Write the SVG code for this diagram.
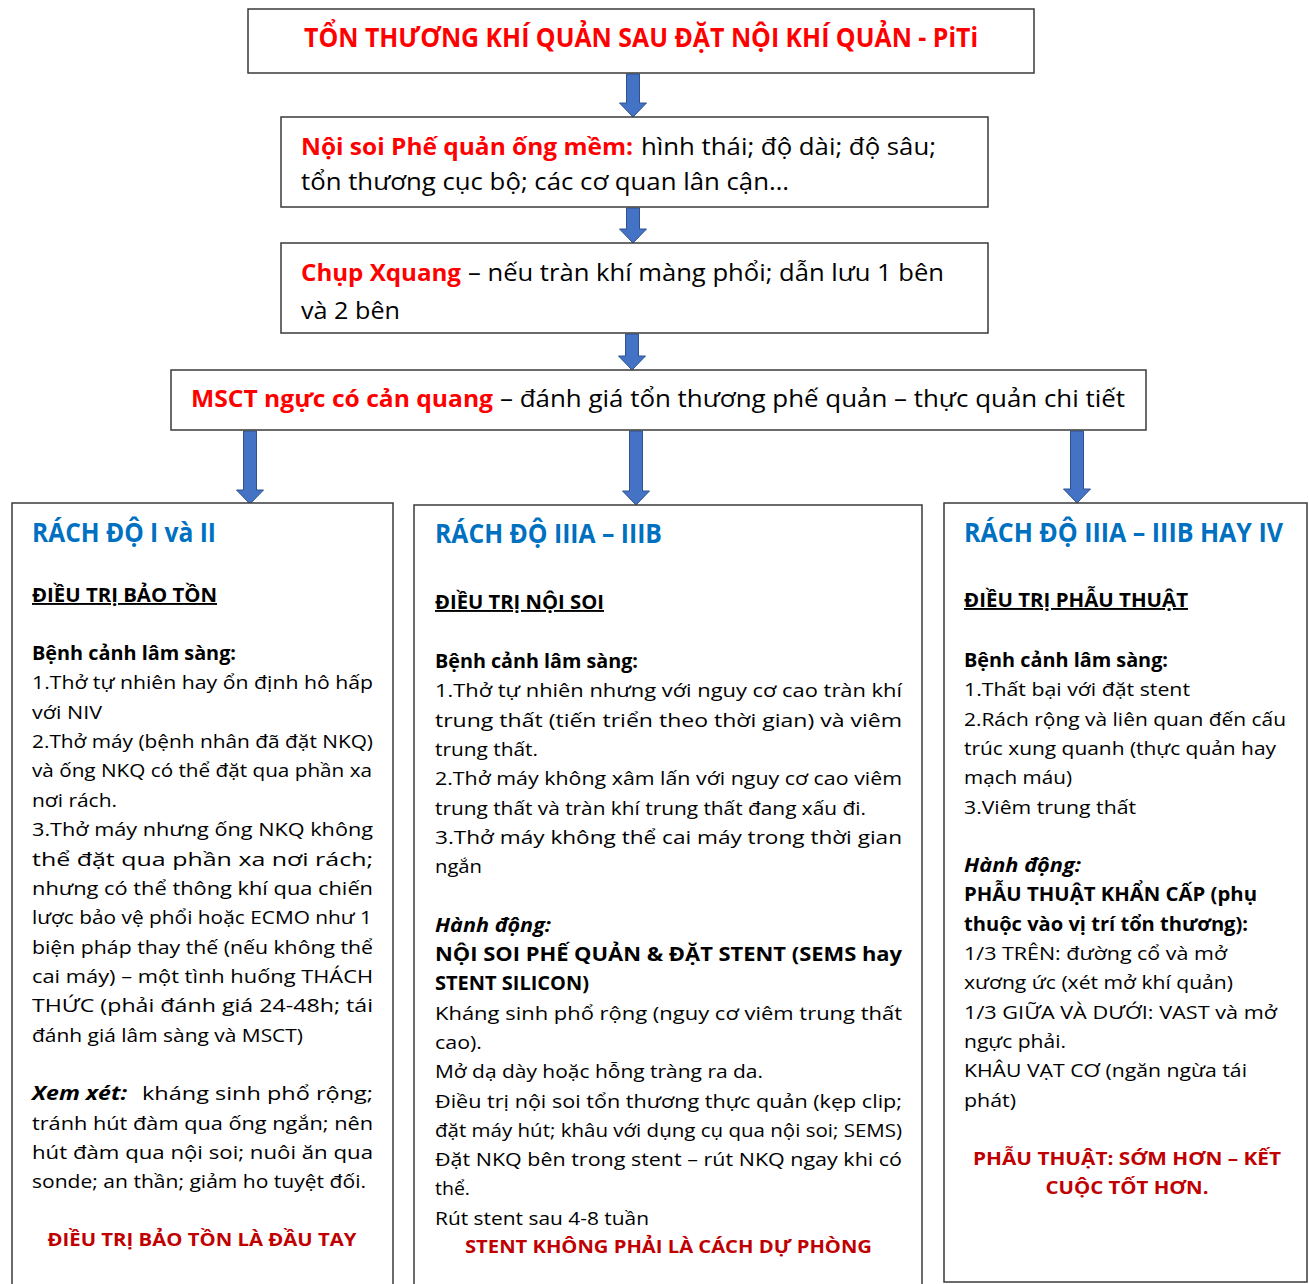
<svg xmlns="http://www.w3.org/2000/svg" width="1309" height="1284" viewBox="0 0 1309 1284">
<style>
text{font-family:"Open Sans","Noto Sans","Liberation Sans",sans-serif;fill:#000}
.box{fill:#fff;stroke:#3a3a3a;stroke-width:1.5}
.arr{fill:#4472C4;stroke:#2F528F;stroke-width:1}
.t{font-size:26px;font-weight:bold;fill:#FF0000}
.m{font-size:24px}
.mr{font-size:24px;font-weight:bold;fill:#FF0000}
.h{font-size:26px;font-weight:bold;fill:#0070C0}
.u{font-size:19px;font-weight:bold;text-decoration:underline}
.b{font-size:19px}
.bb{font-size:19px;font-weight:bold}
.bi{font-size:19px;font-weight:bold;font-style:italic}
.r{font-size:18px;font-weight:bold;fill:#C00000;text-anchor:middle}
</style>
<defs>
<path id="a" class="arr" d="M-6.5,0 H6.5 V-14 H13.5 L0,0 L-13.5,-14 H-6.5 Z"/>
</defs>

<g id="connectors">
<path class="arr" d="M626.5,74 H639.5 V103 H646.5 L633,117 L619.5,103 H626.5 Z"/>
<path class="arr" d="M626.5,208 H639.5 V229 H646.5 L633,243 L619.5,229 H626.5 Z"/>
<path class="arr" d="M625.5,334 H638.5 V356 H645.5 L632,370 L618.5,356 H625.5 Z"/>
<path class="arr" d="M243.5,431 H256.5 V490 H263.5 L250,504 L236.5,490 H243.5 Z"/>
<path class="arr" d="M629.5,431 H642.5 V491 H649.5 L636,505 L622.5,491 H629.5 Z"/>
<path class="arr" d="M1070.5,431 H1083.5 V489 H1090.5 L1077,503 L1063.5,489 H1070.5 Z"/>
</g>

<g id="title">
<rect class="box" x="248" y="9" width="786" height="64"/>
<text class="t" x="641" y="47" text-anchor="middle" textLength="674" lengthAdjust="spacingAndGlyphs">TỔN THƯƠNG KHÍ QUẢN SAU ĐẶT NỘI KHÍ QUẢN - PiTi</text>
</g>

<g id="noisoi">
<rect class="box" x="281" y="117" width="707" height="90"/>
<text class="mr" x="301" y="155" textLength="332" lengthAdjust="spacingAndGlyphs">Nội soi Phế quản ống mềm:</text>
<text class="m" x="641" y="155" textLength="295" lengthAdjust="spacingAndGlyphs">hình thái; độ dài; độ sâu;</text>
<text class="m" x="301" y="190" textLength="488" lengthAdjust="spacingAndGlyphs">tổn thương cục bộ; các cơ quan lân cận…</text>
</g>

<g id="xquang">
<rect class="box" x="281" y="243" width="707" height="90"/>
<text class="mr" x="301" y="281" textLength="160" lengthAdjust="spacingAndGlyphs">Chụp Xquang</text>
<text class="m" x="468" y="281" textLength="476" lengthAdjust="spacingAndGlyphs">– nếu tràn khí màng phổi; dẫn lưu 1 bên</text>
<text class="m" x="301" y="319" textLength="99" lengthAdjust="spacingAndGlyphs">và 2 bên</text>
</g>

<g id="msct">
<rect class="box" x="171" y="370" width="975" height="60"/>
<text class="mr" x="191" y="407" textLength="302" lengthAdjust="spacingAndGlyphs">MSCT ngực có cản quang</text>
<text class="m" x="500" y="407" textLength="625" lengthAdjust="spacingAndGlyphs">– đánh giá tổn thương phế quản – thực quản chi tiết</text>
</g>

<g id="do1-2">
<rect class="box" x="12" y="503" width="381" height="800"/>
<text class="h" x="32" y="542" textLength="184" lengthAdjust="spacingAndGlyphs">RÁCH ĐỘ I và II</text>
<text class="u" x="32" y="602" textLength="185" lengthAdjust="spacingAndGlyphs">ĐIỀU TRỊ BẢO TỒN</text>
<text class="bb" x="32" y="660" textLength="204" lengthAdjust="spacingAndGlyphs">Bệnh cảnh lâm sàng:</text>
<text class="b" x="32" y="689.4" textLength="341" lengthAdjust="spacingAndGlyphs">1.Thở tự nhiên hay ổn định hô hấp</text>
<text class="b" x="32" y="718.7" textLength="70" lengthAdjust="spacingAndGlyphs">với NIV</text>
<text class="b" x="32" y="748" textLength="341" lengthAdjust="spacingAndGlyphs">2.Thở máy (bệnh nhân đã đặt NKQ)</text>
<text class="b" x="32" y="777.4" textLength="340" lengthAdjust="spacingAndGlyphs">và ống NKQ có thể đặt qua phần xa</text>
<text class="b" x="32" y="806.8" textLength="85" lengthAdjust="spacingAndGlyphs">nơi rách.</text>
<text class="b" x="32" y="836.1" textLength="341" lengthAdjust="spacingAndGlyphs">3.Thở máy nhưng ống NKQ không</text>
<text class="b" x="32" y="865.5" textLength="341" lengthAdjust="spacingAndGlyphs">thể đặt qua phần xa nơi rách;</text>
<text class="b" x="32" y="894.8" textLength="341" lengthAdjust="spacingAndGlyphs">nhưng có thể thông khí qua chiến</text>
<text class="b" x="32" y="924.2" textLength="340" lengthAdjust="spacingAndGlyphs">lược bảo vệ phổi hoặc ECMO như 1</text>
<text class="b" x="32" y="953.5" textLength="341" lengthAdjust="spacingAndGlyphs">biện pháp thay thế (nếu không thể</text>
<text class="b" x="32" y="982.9" textLength="341" lengthAdjust="spacingAndGlyphs">cai máy) – một tình huống THÁCH</text>
<text class="b" x="32" y="1012.2" textLength="341" lengthAdjust="spacingAndGlyphs">THỨC (phải đánh giá 24-48h; tái</text>
<text class="b" x="32" y="1041.6" textLength="271" lengthAdjust="spacingAndGlyphs">đánh giá lâm sàng và MSCT)</text>
<text class="bi" x="32" y="1100.3" textLength="95" lengthAdjust="spacingAndGlyphs">Xem xét:</text>
<text class="b" x="142" y="1100.3" textLength="231" lengthAdjust="spacingAndGlyphs">kháng sinh phổ rộng;</text>
<text class="b" x="32" y="1129.6" textLength="341" lengthAdjust="spacingAndGlyphs">tránh hút đàm qua ống ngắn; nên</text>
<text class="b" x="32" y="1159" textLength="341" lengthAdjust="spacingAndGlyphs">hút đàm qua nội soi; nuôi ăn qua</text>
<text class="b" x="32" y="1188.3" textLength="334" lengthAdjust="spacingAndGlyphs">sonde; an thần; giảm ho tuyệt đối.</text>
<text class="r" x="202" y="1246" textLength="309" lengthAdjust="spacingAndGlyphs">ĐIỀU TRỊ BẢO TỒN LÀ ĐẦU TAY</text>
</g>

<g id="do3">
<rect class="box" x="414" y="505" width="508" height="800"/>
<text class="h" x="435" y="543" textLength="227" lengthAdjust="spacingAndGlyphs">RÁCH ĐỘ IIIA – IIIB</text>
<text class="u" x="435" y="609" textLength="169" lengthAdjust="spacingAndGlyphs">ĐIỀU TRỊ NỘI SOI</text>
<text class="bb" x="435" y="668" textLength="203" lengthAdjust="spacingAndGlyphs">Bệnh cảnh lâm sàng:</text>
<text class="b" x="435" y="697.3" textLength="467" lengthAdjust="spacingAndGlyphs">1.Thở tự nhiên nhưng với nguy cơ cao tràn khí</text>
<text class="b" x="435" y="726.6" textLength="467" lengthAdjust="spacingAndGlyphs">trung thất (tiến triển theo thời gian) và viêm</text>
<text class="b" x="435" y="755.9" textLength="103" lengthAdjust="spacingAndGlyphs">trung thất.</text>
<text class="b" x="435" y="785.2" textLength="467" lengthAdjust="spacingAndGlyphs">2.Thở máy không xâm lấn với nguy cơ cao viêm</text>
<text class="b" x="435" y="814.5" textLength="431" lengthAdjust="spacingAndGlyphs">trung thất và tràn khí trung thất đang xấu đi.</text>
<text class="b" x="435" y="843.8" textLength="467" lengthAdjust="spacingAndGlyphs">3.Thở máy không thể cai máy trong thời gian</text>
<text class="b" x="435" y="873.1" textLength="47" lengthAdjust="spacingAndGlyphs">ngắn</text>
<text class="bi" x="435" y="931.7" textLength="116" lengthAdjust="spacingAndGlyphs">Hành động:</text>
<text class="bb" x="435" y="961" textLength="467" lengthAdjust="spacingAndGlyphs">NỘI SOI PHẾ QUẢN &amp; ĐẶT STENT (SEMS hay</text>
<text class="bb" x="435" y="990.3" textLength="154" lengthAdjust="spacingAndGlyphs">STENT SILICON)</text>
<text class="b" x="435" y="1019.6" textLength="467" lengthAdjust="spacingAndGlyphs">Kháng sinh phổ rộng (nguy cơ viêm trung thất</text>
<text class="b" x="435" y="1048.9" textLength="47" lengthAdjust="spacingAndGlyphs">cao).</text>
<text class="b" x="435" y="1078.2" textLength="328" lengthAdjust="spacingAndGlyphs">Mở dạ dày hoặc hỗng tràng ra da.</text>
<text class="b" x="435" y="1107.5" textLength="467" lengthAdjust="spacingAndGlyphs">Điều trị nội soi tổn thương thực quản (kẹp clip;</text>
<text class="b" x="435" y="1136.8" textLength="467" lengthAdjust="spacingAndGlyphs">đặt máy hút; khâu với dụng cụ qua nội soi; SEMS)</text>
<text class="b" x="435" y="1166.1" textLength="467" lengthAdjust="spacingAndGlyphs">Đặt NKQ bên trong stent – rút NKQ ngay khi có</text>
<text class="b" x="435" y="1195.4" textLength="35" lengthAdjust="spacingAndGlyphs">thể.</text>
<text class="b" x="435" y="1224.7" textLength="214" lengthAdjust="spacingAndGlyphs">Rút stent sau 4-8 tuần</text>
<text class="r" x="668.5" y="1253" textLength="407" lengthAdjust="spacingAndGlyphs">STENT KHÔNG PHẢI LÀ CÁCH DỰ PHÒNG</text>
</g>

<g id="do3-4">
<rect class="box" x="944" y="503" width="363" height="779"/>
<text class="h" x="964" y="542" textLength="319" lengthAdjust="spacingAndGlyphs">RÁCH ĐỘ IIIA – IIIB HAY IV</text>
<text class="u" x="964" y="607" textLength="224" lengthAdjust="spacingAndGlyphs">ĐIỀU TRỊ PHẪU THUẬT</text>
<text class="bb" x="964" y="667" textLength="204" lengthAdjust="spacingAndGlyphs">Bệnh cảnh lâm sàng:</text>
<text class="b" x="964" y="696.3" textLength="226" lengthAdjust="spacingAndGlyphs">1.Thất bại với đặt stent</text>
<text class="b" x="964" y="725.6" textLength="322" lengthAdjust="spacingAndGlyphs">2.Rách rộng và liên quan đến cấu</text>
<text class="b" x="964" y="754.9" textLength="312" lengthAdjust="spacingAndGlyphs">trúc xung quanh (thực quản hay</text>
<text class="b" x="964" y="784.2" textLength="108" lengthAdjust="spacingAndGlyphs">mạch máu)</text>
<text class="b" x="964" y="813.5" textLength="172" lengthAdjust="spacingAndGlyphs">3.Viêm trung thất</text>
<text class="bi" x="964" y="872.1" textLength="117" lengthAdjust="spacingAndGlyphs">Hành động:</text>
<text class="bb" x="964" y="901.4" textLength="293" lengthAdjust="spacingAndGlyphs">PHẪU THUẬT KHẨN CẤP (phụ</text>
<text class="bb" x="964" y="930.7" textLength="284" lengthAdjust="spacingAndGlyphs">thuộc vào vị trí tổn thương):</text>
<text class="b" x="964" y="960" textLength="263" lengthAdjust="spacingAndGlyphs">1/3 TRÊN: đường cổ và mở</text>
<text class="b" x="964" y="989.3" textLength="269" lengthAdjust="spacingAndGlyphs">xương ức (xét mở khí quản)</text>
<text class="b" x="964" y="1018.6" textLength="313" lengthAdjust="spacingAndGlyphs">1/3 GIỮA VÀ DƯỚI: VAST và mở</text>
<text class="b" x="964" y="1047.9" textLength="102" lengthAdjust="spacingAndGlyphs">ngực phải.</text>
<text class="b" x="964" y="1077.2" textLength="283" lengthAdjust="spacingAndGlyphs">KHÂU VẠT CƠ (ngăn ngừa tái</text>
<text class="b" x="964" y="1106.5" textLength="52" lengthAdjust="spacingAndGlyphs">phát)</text>
<text class="r" x="1127" y="1165" textLength="308" lengthAdjust="spacingAndGlyphs">PHẪU THUẬT: SỚM HƠN – KẾT</text>
<text class="r" x="1127" y="1194.3" textLength="163" lengthAdjust="spacingAndGlyphs">CUỘC TỐT HƠN.</text>
</g>
</svg>
